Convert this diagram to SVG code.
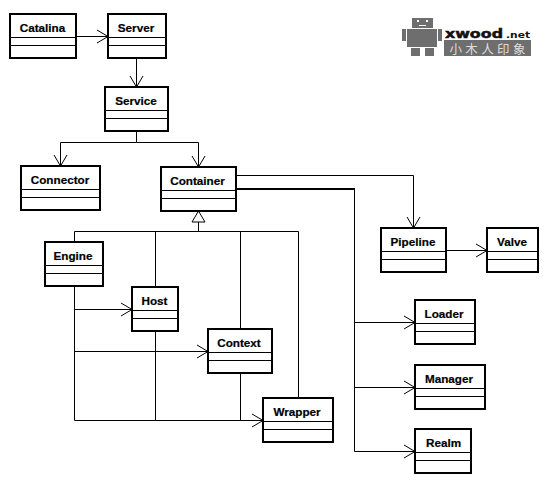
<svg xmlns="http://www.w3.org/2000/svg" width="548" height="487" viewBox="0 0 548 487">
<style>
.b{fill:#fff;stroke:#000;stroke-width:2}
.l{stroke:#000;stroke-width:1;fill:none}
.t{font-family:"Liberation Sans",Arial,sans-serif;font-weight:700;font-size:11.7px;fill:#000;stroke:#000;stroke-width:.2;text-anchor:middle}
.c path,.c line{stroke:#000;stroke-width:1;fill:none}
.g{fill:#6e6e6e}
</style>
<defs>
<marker id="a" markerUnits="userSpaceOnUse" markerWidth="14" markerHeight="16" refX="12" refY="8" orient="auto"><path d="M1 1.500L12 8L1 14.500" fill="none" stroke="#000"/></marker>
</defs>
<rect width="548" height="487" fill="#fff"/>
<g id="connectors" class="c">
<path d="M76 36.500H108" marker-end="url(#a)"/>
<path d="M136.500 58V87" marker-end="url(#a)"/>
<path d="M136.500 131V142.500H60.500V166" marker-end="url(#a)"/>
<path d="M136.500 142.500H198.500V167" marker-end="url(#a)"/>
<path d="M198.500 222V231.500"/>
<path d="M74.500 242V231.500H298.500V398"/>
<path d="M155.500 231.500V287"/>
<path d="M240.500 231.500V329"/>
<path d="M74.500 286V420.500H263" marker-end="url(#a)"/>
<path d="M74.500 309.500H132" marker-end="url(#a)"/>
<path d="M74.500 351.500H208" marker-end="url(#a)"/>
<path d="M155.500 331V420.500"/>
<path d="M240.500 373V420.500"/>
<path d="M236 175.500H413.500V228" marker-end="url(#a)"/>
<path d="M236 189H354.500" style="stroke-width:2"/>
<path d="M354.500 188V451.500H415" marker-end="url(#a)"/>
<path d="M354.500 322.500H415" marker-end="url(#a)"/>
<path d="M354.500 387.500H415" marker-end="url(#a)"/>
<path d="M446 250.500H487" marker-end="url(#a)"/>
<path d="M198.500 211L192 222H205Z" style="fill:#fff"/>
</g>
<g id="catalina"><rect class="b" x="10" y="14" width="66" height="44"/><path class="l" d="M10 37.500H76M10 45.500H76"/><text class="t" x="42.500" y="32">Catalina</text></g>
<g id="server"><rect class="b" x="108" y="14" width="58" height="44"/><path class="l" d="M108 37.500H166M108 45.500H166"/><text class="t" x="136" y="32">Server</text></g>
<g id="service"><rect class="b" x="105" y="87" width="63" height="44"/><path class="l" d="M105 110.500H168M105 118.500H168"/><text class="t" x="136" y="105">Service</text></g>
<g id="connector"><rect class="b" x="21" y="166" width="79" height="44"/><path class="l" d="M21 189.500H100M21 197.500H100"/><text class="t" x="60" y="184">Connector</text></g>
<g id="container"><rect class="b" x="161" y="167" width="75" height="44"/><path class="l" d="M161 190.500H236M161 198.500H236"/><text class="t" x="197.500" y="185">Container</text></g>
<g id="engine"><rect class="b" x="45" y="242" width="58" height="44"/><path class="l" d="M45 265.500H103M45 273.500H103"/><text class="t" x="73" y="260">Engine</text></g>
<g id="host"><rect class="b" x="132" y="287" width="46" height="44"/><path class="l" d="M132 310.500H178M132 318.500H178"/><text class="t" x="154.500" y="305">Host</text></g>
<g id="context"><rect class="b" x="208" y="329" width="64" height="44"/><path class="l" d="M208 352.500H272M208 360.500H272"/><text class="t" x="239" y="347">Context</text></g>
<g id="wrapper"><rect class="b" x="263" y="398" width="70" height="44"/><path class="l" d="M263 421.500H333M263 429.500H333"/><text class="t" x="297" y="416">Wrapper</text></g>
<g id="pipeline"><rect class="b" x="381" y="228" width="65" height="44"/><path class="l" d="M381 251.500H446M381 259.500H446"/><text class="t" x="413" y="246">Pipeline</text></g>
<g id="valve"><rect class="b" x="487" y="228" width="51" height="44"/><path class="l" d="M487 251.500H538M487 259.500H538"/><text class="t" x="512" y="246">Valve</text></g>
<g id="loader"><rect class="b" x="415" y="300" width="60" height="44"/><path class="l" d="M415 323.500H475M415 331.500H475"/><text class="t" x="444" y="318">Loader</text></g>
<g id="manager"><rect class="b" x="415" y="365" width="70" height="44"/><path class="l" d="M415 388.500H485M415 396.500H485"/><text class="t" x="449" y="383">Manager</text></g>
<g id="realm"><rect class="b" x="415" y="429" width="56" height="44"/><path class="l" d="M415 452.500H471M415 460.500H471"/><text class="t" x="443.500" y="447">Realm</text></g>
<g id="logo">
<rect class="g" x="412" y="18" width="21" height="10"/>
<rect x="417" y="20" width="2" height="2" fill="#fff"/><rect x="426" y="20" width="2" height="2" fill="#fff"/><rect x="419" y="25" width="7" height="1" fill="#fff"/>
<rect class="g" x="407" y="29" width="30" height="18"/>
<rect class="g" x="402" y="29" width="4" height="12"/><rect class="g" x="438" y="29" width="4" height="12"/>
<rect class="g" x="411" y="48" width="9" height="8"/><rect class="g" x="425" y="48" width="9" height="8"/>
<rect class="g" x="444" y="40" width="87" height="16"/>
<text x="445" y="37.500" font-family="'DejaVu Sans',sans-serif" font-weight="700" font-size="13" textLength="58" lengthAdjust="spacingAndGlyphs" fill="#111" stroke="#111" stroke-width=".5">xwood</text>
<text x="506" y="37.500" font-family="'DejaVu Sans',sans-serif" font-weight="700" font-size="9" textLength="24" lengthAdjust="spacingAndGlyphs" fill="#111">.net</text>
<text x="487.500" y="54" font-family="'Noto Sans CJK SC',sans-serif" font-size="12.500" textLength="76" fill="#ddd" text-anchor="middle">小木人印象</text>
</g>
</svg>
